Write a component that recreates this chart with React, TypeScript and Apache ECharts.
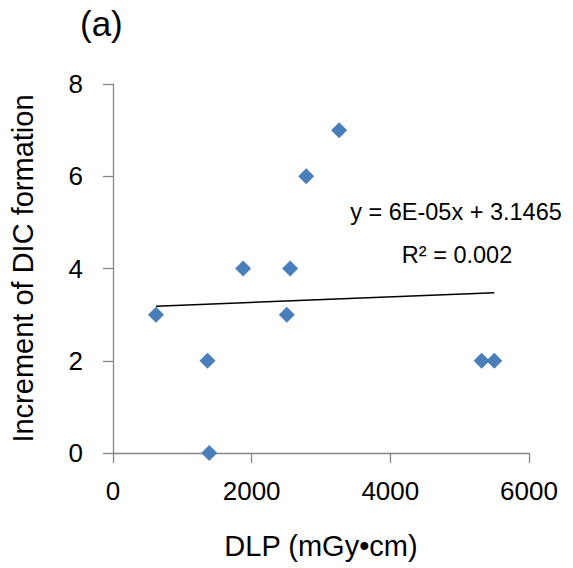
import React, { useEffect, useRef } from "react";
import * as echarts from "echarts";

const dlp = [620, 1363, 1388, 1877, 2507, 2555, 2786, 3261, 5317, 5500];
const dicIncrement = [3, 2, 0, 4, 3, 4, 6, 7, 2, 2];
const slope = 6e-5;
const intercept = 3.1465;
const equationText = "y = 6E-05x + 3.1465";
const r2Text = "R² = 0.002";
const panelLabel = "(a)";
const xAxisName = "DLP (mGy•cm)";
const yAxisName = "Increment of DIC formation";

const FONT = "'Liberation Sans', Arial, sans-serif";

export default function App() {
  const ref = useRef<HTMLDivElement>(null);
  useEffect(() => {
    document.body.style.margin = "0";
    if (!ref.current) return;
    const chart = echarts.init(ref.current, undefined, { renderer: "svg" });
    const xMin = Math.min(...dlp);
    const xMax = Math.max(...dlp);
    const trend = [
      [xMin, slope * xMin + intercept],
      [xMax, slope * xMax + intercept],
    ];
    const axisColor = "#868686";
    chart.setOption({
      animation: false,
      backgroundColor: "#ffffff",
      grid: { left: 113, right: 44, top: 84, bottom: 115, containLabel: false },
      xAxis: {
        type: "value",
        min: 0,
        max: 6000,
        interval: 2000,
        name: xAxisName,
        nameLocation: "middle",
        nameGap: 78,
        nameTextStyle: { fontFamily: FONT, fontSize: 29, color: "#000" },
        axisLine: { show: true, onZero: false, lineStyle: { color: axisColor, width: 1.3 } },
        axisTick: { show: true, inside: false, length: 10, lineStyle: { color: axisColor, width: 1.3 } },
        axisLabel: {
          fontFamily: FONT,
          fontSize: 26,
          color: "#000",
          margin: 25,
          formatter: (v: number) => String(v),
        },
        splitLine: { show: false },
      },
      yAxis: {
        type: "value",
        min: 0,
        max: 8,
        interval: 2,
        name: yAxisName,
        nameLocation: "middle",
        nameRotate: 90,
        nameGap: 76,
        nameTextStyle: { fontFamily: FONT, fontSize: 29, color: "#000" },
        axisLine: { show: true, lineStyle: { color: axisColor, width: 1.3 } },
        axisTick: { show: true, inside: false, length: 10, lineStyle: { color: axisColor, width: 1.3 } },
        axisLabel: { fontFamily: FONT, fontSize: 26, color: "#000", margin: 30 },
        splitLine: { show: false },
      },
      series: [
        {
          type: "line",
          data: trend,
          showSymbol: false,
          symbol: "none",
          lineStyle: { color: "#000", width: 1.5 },
          z: 1,
          silent: true,
        },
        {
          type: "scatter",
          data: dlp.map((x, i) => [x, dicIncrement[i]]),
          symbol: "diamond",
          symbolSize: [16, 16],
          itemStyle: { color: "#4A7EBB", opacity: 1 },
          z: 2,
        },
      ],
      graphic: [
        {
          type: "text",
          left: 80,
          top: 6,
          style: { text: panelLabel, font: `35px ${FONT}`, fill: "#000" },
        },
        {
          type: "text",
          x: 456,
          y: 212,
          style: {
            text: equationText,
            font: `23.5px ${FONT}`,
            fill: "#000",
            align: "center",
            verticalAlign: "middle",
          },
        },
        {
          type: "text",
          x: 457,
          y: 255,
          style: {
            text: r2Text,
            font: `23.5px ${FONT}`,
            fill: "#000",
            align: "center",
            verticalAlign: "middle",
          },
        },
      ],
    });
    return () => chart.dispose();
  }, []);
  return <div ref={ref} style={{ width: 573, height: 568 }} />;
}
